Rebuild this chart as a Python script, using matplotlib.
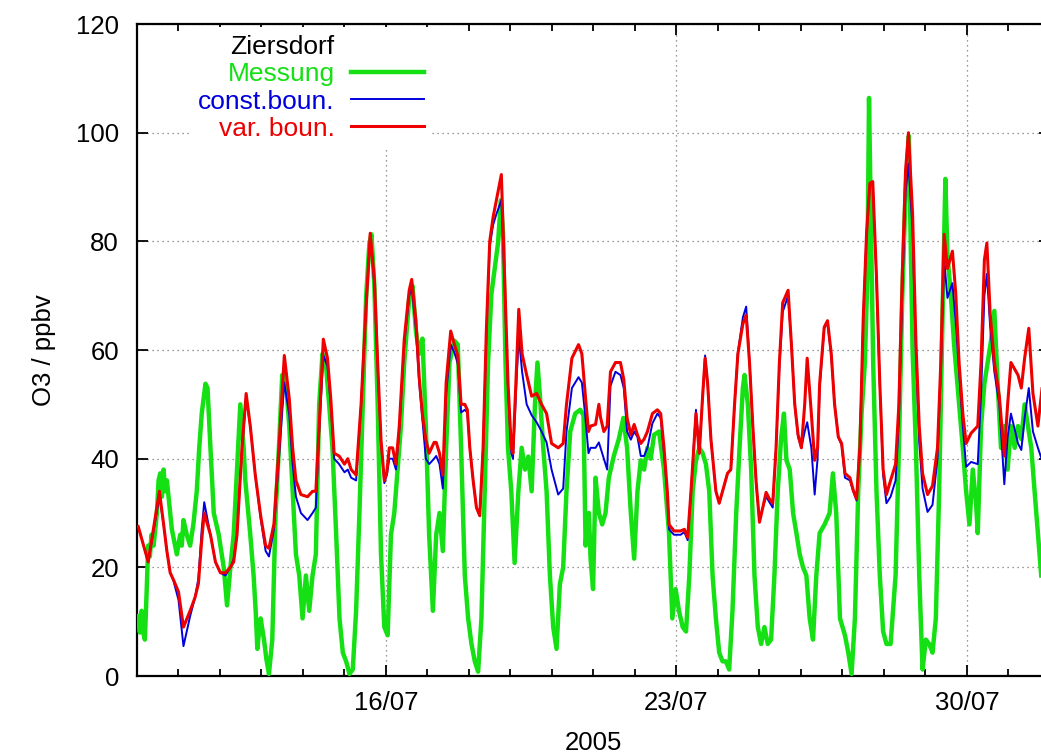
import numpy as np
import pandas as pd
import matplotlib
matplotlib.use("Agg")
import matplotlib.pyplot as plt
import matplotlib.dates as mdates
from matplotlib.lines import Line2D

# ---- data: ozone at Ziersdorf, July 2005 (time in days after 10/07/2005 00:00) ----
start = pd.Timestamp("2005-07-10")

model_days = [
    0.03, 0.27, 0.54, 0.64, 0.72, 0.80, 0.88, 1.00, 1.12, 1.28, 1.40, 1.48, 1.56, 1.62, 1.77, 1.89,
    2.01, 2.13, 2.25, 2.33, 2.41, 2.53, 2.63, 2.73, 2.85, 2.98, 3.10, 3.18, 3.30, 3.42, 3.55, 3.67,
    3.75, 3.83, 3.95, 4.11, 4.23, 4.31, 4.39, 4.49, 4.59, 4.67, 4.75, 4.87, 5.00, 5.08, 5.16, 5.28,
    5.40, 5.52, 5.62, 5.72, 5.80, 5.88, 5.96, 6.02, 6.08, 6.16, 6.24, 6.32, 6.44, 6.56, 6.62, 6.72,
    6.80, 6.88, 6.96, 7.04, 7.16, 7.21, 7.29, 7.37, 7.45, 7.56, 7.65, 7.73, 7.81, 7.90, 7.96, 8.02,
    8.10, 8.18, 8.26, 8.34, 8.42, 8.50, 8.58, 8.66, 8.78, 8.86, 8.94, 9.02, 9.06, 9.15, 9.20, 9.28,
    9.39, 9.51, 9.63, 9.75, 9.87, 9.99, 10.15, 10.27, 10.35, 10.48, 10.64, 10.72, 10.80, 10.88, 10.93, 11.05,
    11.13, 11.17, 11.25, 11.33, 11.41, 11.53, 11.65, 11.73, 11.81, 11.90, 11.98, 12.06, 12.14, 12.22, 12.30, 12.42,
    12.54, 12.62, 12.70, 12.78, 12.82, 12.94, 13.10, 13.19, 13.27, 13.35, 13.47, 13.55, 13.63, 13.69, 13.75, 13.83,
    13.95, 14.03, 14.11, 14.23, 14.31, 14.40, 14.48, 14.60, 14.68, 14.76, 14.84, 14.92, 15.00, 15.08, 15.16, 15.24,
    15.32, 15.40, 15.48, 15.56, 15.69, 15.77, 15.85, 15.93, 16.01, 16.09, 16.15, 16.25, 16.33, 16.40, 16.45, 16.56,
    16.64, 16.73, 16.81, 16.90, 16.98, 17.06, 17.18, 17.26, 17.34, 17.42, 17.50, 17.58, 17.66, 17.73, 17.82, 17.90,
    17.98, 18.06, 18.16, 18.28, 18.36, 18.44, 18.52, 18.59, 18.69, 18.77, 18.85, 18.93, 19.05, 19.17, 19.29, 19.37,
    19.45, 19.53, 19.65, 19.73, 19.81, 19.90, 19.98, 20.10, 20.26, 20.34, 20.42, 20.48, 20.56, 20.66, 20.78, 20.90,
    20.98, 21.06, 21.23, 21.31, 21.39, 21.49, 21.59, 21.71, 21.81,
]

var_boun = [
    27.5, 21, 34, 28, 23, 19, 17.7, 15.5, 9, 12, 14.5, 17, 25, 30, 26, 21,
    19, 19, 20, 21, 26, 42, 52, 46, 37, 29.5, 24, 23.5, 28, 42, 59, 51,
    42, 36, 33.4, 33, 34, 34, 46, 62, 58.5, 51, 41, 40.5, 39, 40, 38, 37,
    50, 68, 81.5, 73, 57.5, 43.5, 36, 37.5, 42, 42, 39, 46, 62, 71, 73, 65.5,
    55, 48, 43.5, 41, 43, 43, 41, 37, 54, 63.5, 61, 59, 50, 50, 49, 42,
    36, 31, 29.5, 42, 64, 80, 84.4, 87.6, 92.3, 73.4, 54, 42, 41, 57.7, 67.5, 59.3,
    55.4, 51.5, 52, 50, 48.3, 42.8, 42, 42.8, 50, 58.5, 61, 59.3, 52, 45, 46, 46.3,
    50, 47.6, 45, 46, 56, 57.7, 57.7, 54.6, 47.5, 44.4, 46.3, 44.4, 42.8, 43.6, 45, 48.3,
    49, 48.3, 42, 34, 27.9, 26.7, 26.7, 27, 25.5, 34, 48.3, 41, 51.5, 58.5, 54, 43.6,
    34, 31.8, 34, 37.3, 38, 50, 59.3, 64.8, 66.4, 57.7, 46, 35.7, 28.3, 31, 33.8, 32.6,
    31.8, 42, 57.7, 68.7, 71, 61, 50, 44.4, 42, 50, 58.5, 48.3, 39.7, 42, 53.8, 64.2,
    65.4, 59.3, 50, 44, 42.8, 37.3, 36.5, 34.2, 32.6, 42, 65.7, 81.3, 90.7, 91, 73.4, 53.8,
    38, 33.4, 36, 39, 50, 73.5, 93, 100, 85, 61.5, 46, 37.3, 33.4, 35, 42, 57.7,
    81.3, 75, 78.2, 70.4, 57.7, 48.3, 42.8, 44.7, 46, 57.7, 76.6, 79.7, 66.6, 57.7, 51.5, 40.5,
    50, 57.7, 55.4, 53, 58.5, 64, 52, 46, 53,
]

const_boun = [
    27.5, 21, 33, 28, 23, 19, 17.5, 14, 5.5, 11, 14.5, 18, 27, 32, 26, 21,
    19, 18.5, 20, 21.5, 26, 42, 51, 46, 37, 29, 23, 22, 27, 40, 54, 48,
    39, 33, 30, 28.7, 30, 31, 45, 59, 57, 50, 40, 39, 37.5, 38, 36.5, 36,
    50, 68, 81, 72, 57, 43, 35.5, 37, 40, 40, 38, 45, 61, 70, 71.5, 64,
    54, 47, 40, 39, 40, 40.5, 39, 34.5, 52, 61, 59.5, 57.5, 48.5, 49, 48.5, 42,
    36, 31, 29.5, 42, 63, 79, 83, 85, 87.6, 72, 53, 41, 40, 55, 62.5, 56,
    50, 48, 46.7, 45, 43, 38, 33.4, 34.5, 45, 53, 55, 54, 48, 41, 42, 42,
    43, 42, 40, 38, 53.4, 56, 55.4, 53, 45, 43.5, 45, 44, 40.5, 40.5, 42, 46.5,
    48.3, 47.5, 41, 33.5, 27, 26, 26, 26.5, 25, 34, 49, 41, 51.5, 59, 54, 43.6,
    34, 31.8, 34, 37.3, 38, 50, 59.5, 66, 68, 58, 46, 35.5, 28.5, 31, 33, 32,
    31, 42, 57, 67, 70, 61, 50, 44, 42, 45, 46.7, 42, 33.4, 40, 53, 64,
    65, 59, 50, 44, 42.5, 36.5, 36, 34, 32.3, 42, 65.7, 81.3, 90.5, 90.7, 73, 53.5,
    37, 31.8, 33, 36, 47, 70, 89, 94.3, 82, 59, 43, 34.5, 30.2, 31.5, 40, 56,
    76.6, 69.6, 72.3, 65, 56, 46, 38.5, 39.4, 39, 52, 70, 74, 64.2, 56, 50, 35.3,
    44, 48.3, 42.8, 41.6, 47.5, 53, 45, 42, 39.7,
]

meas_days = [
    0.00, 0.03, 0.07, 0.11, 0.15, 0.19, 0.23, 0.27, 0.31, 0.35, 0.40, 0.44, 0.48, 0.52, 0.56, 0.60,
    0.64, 0.68, 0.72, 0.80, 0.84, 0.88, 0.96, 1.04, 1.08, 1.12, 1.20, 1.28, 1.36, 1.44, 1.50, 1.56,
    1.65, 1.70, 1.77, 1.85, 1.97, 2.09, 2.17, 2.25, 2.33, 2.41, 2.49, 2.57, 2.61, 2.73, 2.81, 2.86,
    2.90, 2.94, 2.98, 3.06, 3.12, 3.18, 3.26, 3.34, 3.42, 3.50, 3.55, 3.61, 3.67, 3.75, 3.83, 3.91,
    3.99, 4.07, 4.15, 4.23, 4.31, 4.39, 4.47, 4.55, 4.63, 4.71, 4.80, 4.88, 4.96, 5.04, 5.12, 5.20,
    5.28, 5.36, 5.44, 5.52, 5.60, 5.65, 5.72, 5.80, 5.88, 5.96, 6.04, 6.12, 6.20, 6.28, 6.36, 6.44,
    6.56, 6.64, 6.72, 6.80, 6.88, 6.96, 7.04, 7.09, 7.13, 7.21, 7.29, 7.37, 7.45, 7.53, 7.65, 7.73,
    7.81, 7.90, 7.98, 8.06, 8.14, 8.22, 8.30, 8.38, 8.46, 8.54, 8.62, 8.70, 8.77, 8.82, 8.88, 8.94,
    9.02, 9.10, 9.19, 9.27, 9.35, 9.43, 9.51, 9.59, 9.65, 9.71, 9.79, 9.87, 9.95, 10.03, 10.11, 10.19,
    10.27, 10.35, 10.44, 10.56, 10.68, 10.76, 10.81, 10.85, 10.89, 10.93, 10.99, 11.05, 11.13, 11.21, 11.29, 11.37,
    11.49, 11.61, 11.72, 11.81, 11.90, 11.98, 12.06, 12.14, 12.22, 12.30, 12.38, 12.46, 12.58, 12.70, 12.82, 12.90,
    12.98, 13.06, 13.15, 13.23, 13.31, 13.39, 13.47, 13.55, 13.63, 13.71, 13.79, 13.87, 13.95, 14.03, 14.11, 14.19,
    14.27, 14.35, 14.44, 14.52, 14.60, 14.64, 14.72, 14.80, 14.88, 14.96, 15.04, 15.12, 15.20, 15.28, 15.36, 15.44,
    15.52, 15.59, 15.65, 15.73, 15.81, 15.89, 15.97, 16.05, 16.13, 16.21, 16.29, 16.37, 16.45, 16.57, 16.69, 16.77,
    16.85, 16.94, 17.06, 17.14, 17.22, 17.30, 17.38, 17.46, 17.54, 17.60, 17.64, 17.69, 17.74, 17.82, 17.90, 17.98,
    18.06, 18.16, 18.28, 18.36, 18.44, 18.52, 18.60, 18.69, 18.77, 18.85, 18.93, 19.01, 19.09, 19.17, 19.25, 19.33,
    19.41, 19.48, 19.53, 19.61, 19.69, 19.77, 19.90, 19.98, 20.06, 20.14, 20.22, 20.26, 20.34, 20.42, 20.50, 20.58,
    20.66, 20.74, 20.82, 20.90, 20.98, 21.06, 21.15, 21.23, 21.31, 21.39, 21.47, 21.55, 21.63, 21.71, 21.79,
]

messung = [
    11, 10, 8, 12, 8, 6.7, 15, 24, 22, 26, 24, 27, 30, 36, 37.3, 33,
    38, 34, 36, 30, 27, 25.5, 22.4, 26, 24, 28.7, 26, 24, 28, 34, 42, 48.3,
    53.8, 53, 42, 30, 26, 20, 13, 20, 26, 38, 50, 42, 36, 26, 18.5, 12,
    5, 8, 10.6, 6.7, 3, 0.4, 6.7, 30, 42, 55.4, 55.4, 52, 46, 34, 22.4, 18.5,
    10.6, 18.5, 12, 18.5, 22.4, 50, 59.3, 57.7, 50, 42, 26, 10.6, 4.3, 2.7, 0.4, 1.2,
    12, 30, 50, 69.6, 79.7, 81.3, 71.8, 50, 22.4, 9, 7.5, 26, 30, 38, 46, 57.7,
    69.6, 71.8, 63.6, 59.3, 62.1, 46, 26, 18, 12, 26, 30, 23, 42, 57.7, 61.7, 61,
    42, 18.5, 10.6, 5.9, 2.7, 0.8, 10.6, 34, 57.7, 70.3, 75, 79.7, 87.6, 81.3, 57.7, 42,
    34, 20.8, 34, 42, 38, 40.4, 34, 50, 57.7, 51.5, 42, 34, 18.5, 9, 5, 16.9,
    20, 34, 45, 48.3, 49, 48, 24, 28, 30, 21.6, 16, 36.5, 30, 27.9, 30, 36.5,
    40.5, 43.6, 47.5, 42, 30, 21.6, 34, 39.7, 38, 42, 40, 44.4, 45, 38, 26.3, 10.6,
    16, 12, 9, 8.2, 18.5, 34, 39.7, 42, 41, 39, 34, 18.5, 10.6, 4.3, 2.7, 2.7,
    1.2, 12, 30, 42, 53, 55.4, 50, 38, 18.5, 9, 5.9, 9, 5.9, 6.7, 18.5, 34,
    43.6, 48.3, 39.7, 38, 30, 26.3, 22.4, 20, 18.5, 10.6, 6.7, 18.5, 26.3, 27.9, 30, 37.3,
    30, 10.6, 7.5, 4.3, 0.4, 10.6, 34, 48.3, 57.7, 73.4, 106.4, 81.3, 57.7, 34, 18.5, 8.2,
    5.9, 5.9, 18.5, 42, 69.6, 89, 99.4, 60, 42, 18.5, 1.2, 6.7, 5.9, 4.3, 10.6, 34,
    65.7, 91.5, 77.5, 70.3, 61, 53.8, 42, 34, 27.9, 38, 31.8, 26.3, 46, 53.8, 57.7, 61.7,
    67.2, 53.8, 42, 46, 38, 46, 42, 46, 43.6, 50, 46, 42, 34, 26.3, 18.5,
]

station = "Ziersdorf"
labels = ["Messung", "const.boun.", "var. boun."]
colors = ["#14e014", "#0000dd", "#ee0000"]

# ---- figure ----
plt.rcParams["font.family"] = ["Liberation Sans", "DejaVu Sans"]
fig = plt.figure(figsize=(10.41, 7.56), dpi=100)
ax = fig.add_axes([0.1316, 0.1058, 0.877, 0.8624])

t_meas = start + pd.to_timedelta(meas_days, unit="D")
t_model = start + pd.to_timedelta(model_days, unit="D")

h_meas, = ax.plot(t_meas, messung, color=colors[0], lw=3.2, zorder=3)
h_const, = ax.plot(t_model, const_boun, color=colors[1], lw=1.4, zorder=4)
h_var, = ax.plot(t_model, var_boun, color=colors[2], lw=2.2, zorder=5)

ax.set_xlim(start, pd.Timestamp("2005-08-01"))
ax.set_ylim(0, 120)
ax.set_yticks(np.arange(0, 121, 20))

ax.xaxis.set_major_locator(mdates.DayLocator(bymonthday=[16, 23, 30]))
ax.xaxis.set_minor_locator(mdates.DayLocator())
ax.xaxis.set_major_formatter(mdates.DateFormatter("%d/%m"))

ax.grid(True, which="major", linestyle=(0, (1, 3)), color="#777777", lw=0.9, zorder=1)

ax.tick_params(axis="both", which="both", direction="in", top=True, right=True,
               labelsize=18.5, width=1.3)
ax.tick_params(axis="both", which="major", length=8)
ax.tick_params(axis="both", which="minor", length=5)
ax.tick_params(axis="y", pad=13)
ax.tick_params(axis="x", pad=11)
for s in ax.spines.values():
    s.set_linewidth(1.6)

ax.set_xlabel("2005", fontsize=18.5, labelpad=11)
ax.set_ylabel("O3 / ppbv", fontsize=18.5, labelpad=14)

# key: station name as a handle-less first row, labels right-aligned before the samples
blank = Line2D([], [], linestyle="none")
leg = ax.legend([blank, h_meas, h_const, h_var], [station] + labels,
                loc="upper right", bbox_to_anchor=(0.3235, 0.995), borderaxespad=0,
                fontsize=19, markerfirst=False, handlelength=2.8,
                handletextpad=0.6, labelspacing=0.12, borderpad=0.3,
                frameon=True, fancybox=False)
for txt, c in zip(leg.get_texts(), ["black"] + colors):
    txt.set_color(c)
leg.get_frame().set_facecolor("white")
leg.get_frame().set_edgecolor("none")
leg.get_frame().set_alpha(1.0)
leg.set_zorder(10)

fig.savefig("out.png", dpi=100)
